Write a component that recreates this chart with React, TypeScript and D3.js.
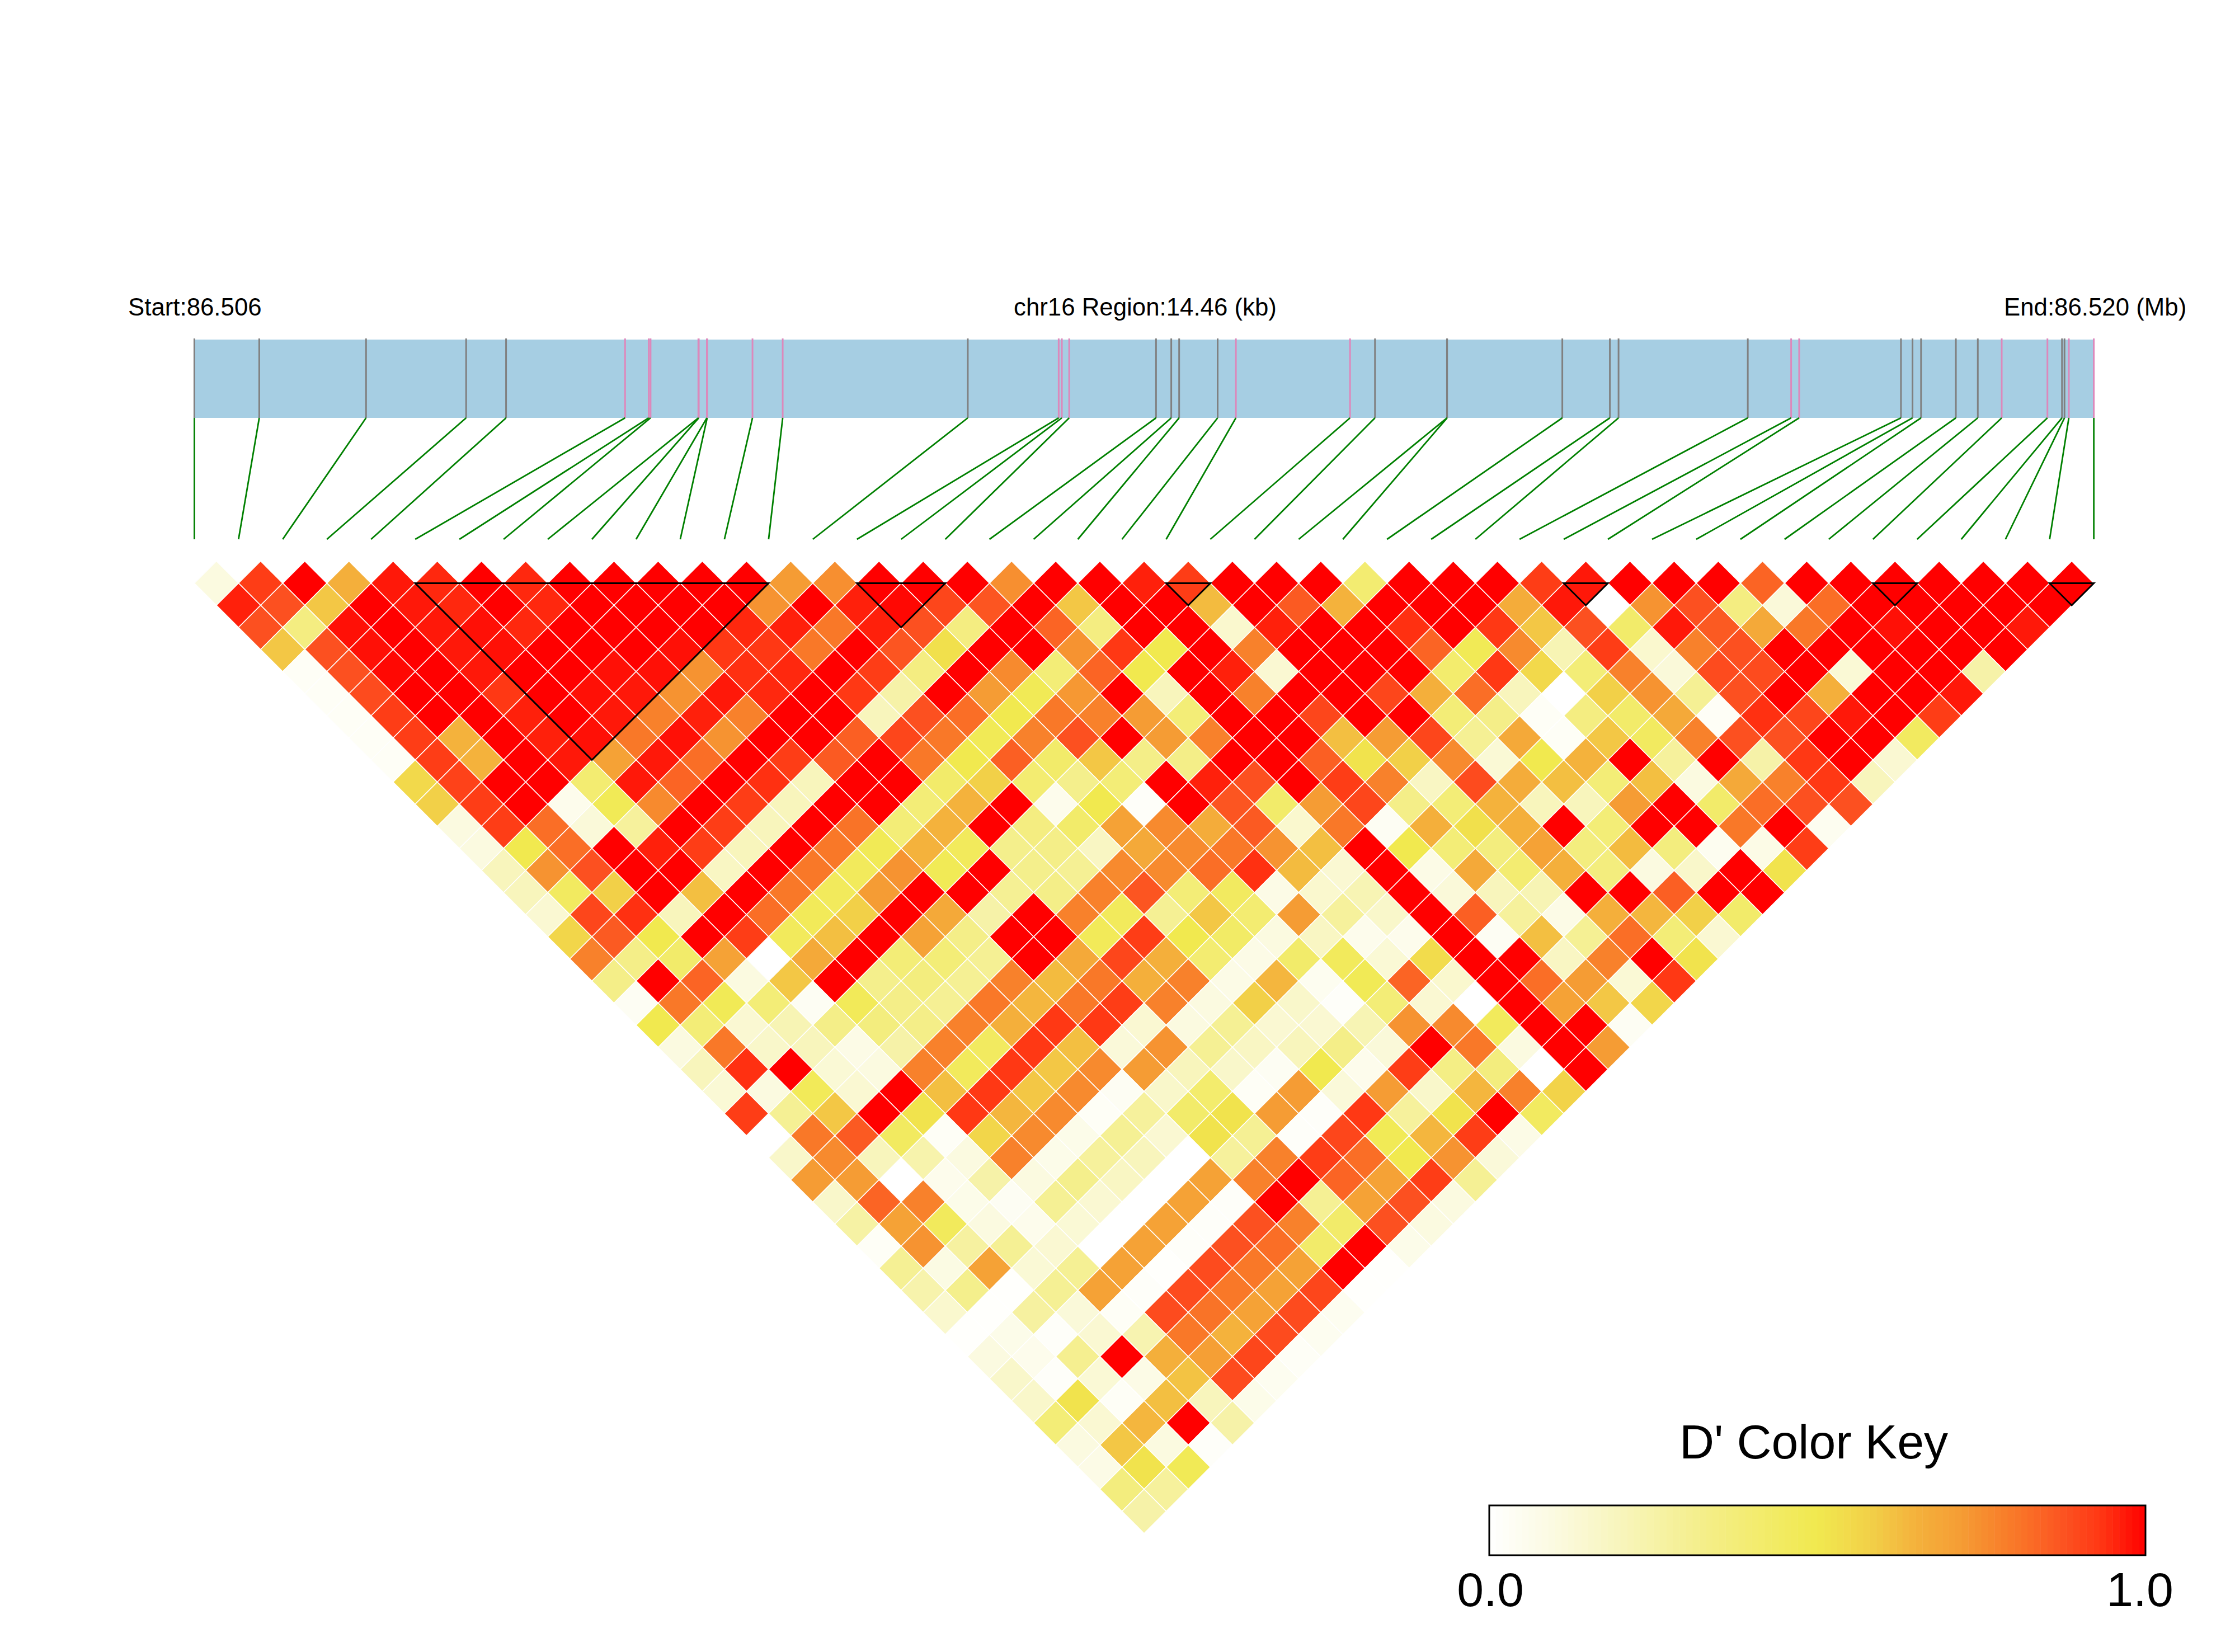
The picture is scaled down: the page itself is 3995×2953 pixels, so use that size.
import React from "react";
import * as d3 from "d3";

// SNP positions along the region, in kb from the region start
const snpKb = [0,0.494,1.307,2.069,2.373,3.279,3.459,3.473,3.837,3.84,3.902,3.904,4.249,4.479,5.888,6.58,6.604,6.66,7.321,7.437,7.497,7.79,7.929,8.798,8.988,9.536,9.537,10.414,10.776,10.842,11.826,12.156,12.217,12.992,13.08,13.145,13.41,13.577,13.759,14.107,14.218,14.237,14.27,14.46];
// SNPs drawn with a pink tick (they fall in LD blocks)
const blockSnps = [5,6,7,8,9,10,11,12,13,15,16,17,22,23,31,32,38,39,42,43];
// LD blocks as [first SNP, last SNP]
const blocks = [[5,13],[15,17],[22,23],[31,32],[38,39],[42,43]];

// D' by SNP distance: row k holds pairs (i, i+k+1)
const dPrimeRows = [
[.1,.92,1,.66,.97,.95,1,.95,1,1,1,1,1,.72,.75,1,1,1,.75,1,1,.96,.92,1,1,1,.4,1,1,1,.92,.97,1,1,1,.84,1,1,1,1,1,1,1],
[.96,.88,.6,1,.97,.95,1,.95,1,1,1,1,.74,1,.96,.99,.9,.87,1,.6,1,1,.63,1,.86,.65,1,1,1,.67,.97,0,.74,.88,.35,.12,.82,1,1,1,1,1],
[.88,.35,.98,1,.97,.98,.95,1,1,1,1,.95,.96,.8,.96,.88,.35,1,.84,.35,1,1,.15,.96,1,1,.94,1,.93,.6,.88,.42,.97,.86,.68,.8,1,.98,1,1,.97],
[.6,.88,.98,1,.97,.98,1,1,1,.98,.93,.93,.8,1,.87,.53,1,1,.74,.93,.5,1,.78,1,1,1,.84,.48,.76,.22,.92,.15,.78,.88,1,1,1,1,1,1],
[.03,.88,.99,1,.97,1,1,.98,.98,.74,.94,.95,1,.92,.35,1,.76,.38,.84,.5,1,.96,.14,1,1,1,.41,.93,.55,.38,.78,.12,.89,.89,1,.13,1,1,.25],
[.03,.89,1,1,.93,1,.98,.97,.74,.97,.95,1,.93,.25,1,.72,.48,.73,1,.2,1,.78,1,1,.9,.66,.82,.2,0,.58,.74,.3,.88,1,.66,1,1,.97],
[.03,.92,1,1,.96,1,.97,.78,.96,.78,1,1,.2,.88,.82,.5,.8,.78,.72,.38,1,1,.9,1,1,.38,.33,.03,.35,.42,.68,.03,.94,.9,.97,1,.92],
[.03,.92,.65,1,.96,.98,.8,.98,.74,1,1,.85,.9,.8,.48,.78,.88,1,.72,.78,1,1,.62,.72,.9,.3,.68,.03,.6,.45,.78,.88,.88,1,1,.45],
[.03,.92,.65,1,.97,.7,.97,.82,1,.92,.86,1,.8,.5,.85,.42,.6,.33,.33,1,1,.85,.52,.58,.76,.13,.5,.65,1,.28,1,.25,.93,1,.14],
[.55,.91,1,1,.4,.97,.84,1,.94,.2,1,1,.42,.58,.4,.32,.38,1,.96,.88,1,.92,.78,.18,.89,.67,.62,.38,.62,.1,.68,.78,.93,.2],
[.58,.92,1,.06,.48,.76,1,.92,.2,1,1,.38,.65,1,.06,.5,.02,1,.87,.42,.72,.9,.33,.38,.65,.2,.2,.72,1,.42,.82,.88,.88],
[.1,.92,.82,.12,.28,1,.92,.2,1,.81,.38,.65,1,.35,.42,.7,.76,.67,.86,.15,.8,.04,.66,.53,.66,1,.38,1,1,.8,1,.05],
[.1,.5,.82,1,.96,.92,.2,1,.8,.48,.65,.46,.32,.33,.18,.68,.76,.8,.74,.62,1,.5,.38,.36,.7,.36,.63,.36,.05,.08,.92],
[.2,.74,.88,1,1,.18,1,.8,.46,.74,.48,1,.32,.3,.76,.76,.82,.94,.63,.14,1,.08,.68,.4,.66,.36,.1,.16,1,.52],
[.2,.45,.58,1,.62,1,.8,.46,.72,1,1,.3,.33,.78,.87,.38,.45,.08,.15,.22,1,.12,.2,.22,1,1,.85,1,1],
[.14,.9,.94,.2,1,.82,.47,.58,1,.68,.25,1,.78,.46,.3,.6,.4,.72,.28,.16,1,.85,.28,.08,.66,.64,.58,.42],
[.56,.86,.5,1,.92,.46,.62,1,.7,.33,1,1,.47,.92,.5,.43,.1,.18,.06,.06,1,.04,.62,.3,.82,.38,.14],
[.78,.33,.42,.7,0,.68,1,.38,.38,.3,1,.68,.9,.66,.4,.08,.42,.46,.13,.54,1,1,.18,.78,1,.52],
[.33,1,.84,.1,.6,1,.32,.36,.3,.78,.63,.8,.66,.78,.08,.64,.05,.48,.84,.15,1,.82,.72,.13,.93],
[.04,.8,.48,.38,.04,.47,.33,.3,.8,.64,.8,.92,.78,.1,.58,.16,.02,.38,.14,0,1,.7,.6,.56],
[.5,.38,.14,.22,.33,.36,.33,.78,.66,.93,.93,.14,.1,.3,.14,.14,.22,.74,.76,.46,1,1,.04],
[.1,.8,.16,.2,.08,.25,.78,.45,.93,.62,.12,.74,.3,.18,.2,.33,.12,1,.8,.1,1,.72],
[.2,.94,1,.13,.1,.78,.46,.93,.6,.76,.72,.2,.16,.04,.5,.06,.92,.34,.36,0,1],
[.13,.1,.47,.14,1,.62,.93,.6,.76,.04,.16,.41,.03,.72,.12,.72,.16,.64,.78,.57],
[.92,.3,.6,1,.52,.93,.64,.76,.03,.28,.42,.52,.72,.02,.93,.28,.52,1,.45],
[0,.8,.86,.45,.03,.56,.76,.07,.3,.14,.52,.3,.02,.9,.48,.64,.92,.08],
[.16,.76,.2,.24,.1,.78,.07,.28,.2,0,.28,.78,.92,.82,.5,.74,.12],
[.72,.72,0,.06,.25,.1,.32,.18,0,.7,.78,1,.84,.7,.92,.3],
[.16,.84,.78,.07,.04,.3,.14,0,.7,.02,1,.3,.7,.88,.1],
[.26,.7,.46,.1,.06,.13,0,.7,.02,.88,.78,.42,.88,.1],
[.03,.74,.27,.3,.14,0,.7,.02,.88,.82,.42,1,.07],
[.3,.09,.7,.13,.3,.7,.01,.89,.8,.7,1,.01],
[.24,.32,.01,.3,.7,.02,.89,.8,.7,.9,.01],
[.15,.01,.27,.12,.03,.89,.81,.7,.89,.05],
[.01,.07,.02,.14,.23,.8,.65,.89,.05],
[.1,.06,.31,1,.66,.71,.9,.03],
[.16,.02,.13,.08,.61,.89,.05],
[.16,.52,.03,.62,.2,.07],
[.38,.14,.64,1,.25],
[.1,.6,.1,.02],
[.08,.52,.48],
[.36,.28],
[.25],
];

const colorStops = [0,.1,.2,.33,.5,.58,.65,.72,.8,.88,.93,1];
const colorValues = ["#ffffff","#fbfae0","#f8f5bc","#f4ee88","#f1e94f","#f2d048","#f4b23c","#f59c34","#f97828","#fc5020","#ff3814","#ff0000"];

const W = 3995, H = 2953;
const color = d3.scaleLinear<string>().domain(colorStops).range(colorValues);
const snpX = d3.scaleLinear().domain([0, snpKb.length - 1]).range([347.4, 3742.6]);
const rowY = d3.scaleLinear().domain([0, dPrimeRows.length - 1]).range([1042.5, 2701.5]);
const bandX = d3.scaleLinear().domain([snpKb[0], snpKb[snpKb.length - 1]]).range([347.4, 3742.6]);
const halfW = (snpX(1) - snpX(0)) / 2;
const halfH = rowY(1) - rowY(0);
const keyX = d3.scaleLinear().domain([0, 1]).range([2662, 3835]);
const keySteps = d3.range(100);

const FONT = "'Liberation Sans', Arial, sans-serif";

export default function App() {
  const bandTop = 607, bandBot = 747, lineBot = 964, keyTop = 2691, keyBot = 2780;
  return (
    <svg width={W} height={H} viewBox={`0 0 ${W} ${H}`} style={{ position: "absolute", left: 0, top: 0, background: "#fff" }} fontFamily={FONT}>
      <text x={229} y={564} fontSize={43.8}>Start:86.506</text>
      <text x={1812} y={564} fontSize={43.8}>chr16 Region:14.46 (kb)</text>
      <text x={3582} y={564} fontSize={43.8}>End:86.520 (Mb)</text>

      <rect x={bandX(0)} y={bandTop} width={bandX(14.46) - bandX(0)} height={bandBot - bandTop} fill="#a6cee3" />
      {snpKb.map((kb, i) => (
        <g key={i}>
          <line x1={bandX(kb)} x2={bandX(kb)} y1={bandTop - 2} y2={bandBot} stroke={blockSnps.includes(i) ? "#dd88bb" : "#808080"} strokeWidth={3} />
          <line x1={bandX(kb)} y1={bandBot} x2={snpX(i)} y2={lineBot} stroke="#008000" strokeWidth={2.8} />
        </g>
      ))}

      {dPrimeRows.map((row, k) =>
        row.map((v, i) => {
          const cx = snpX(i + (k + 1) / 2);
          const cy = rowY(k);
          return (
            <path key={`${k}-${i}`} d={`M${cx - halfW},${cy}L${cx},${cy - halfH}L${cx + halfW},${cy}L${cx},${cy + halfH}Z`} fill={color(v)} stroke="#fff" strokeWidth={1.6} />
          );
        })
      )}

      {blocks.map(([a, b], n) => {
        const xa = snpX(a), xb = snpX(b);
        const tipY = rowY(0) + (b - a) * halfH;
        return <path key={n} d={`M${xa},${rowY(0)}L${xb},${rowY(0)}L${(xa + xb) / 2},${tipY}Z`} fill="none" stroke="#000" strokeWidth={3} />;
      })}

      <text x={3242} y={2607} fontSize={86} textAnchor="middle">D' Color Key</text>
      {keySteps.map((s) => (
        <rect key={s} x={keyX(s / 100)} y={keyTop} width={keyX(1 / 100) - keyX(0) + 0.5} height={keyBot - keyTop} fill={color((s + 0.5) / 100)} />
      ))}
      <rect x={keyX(0)} y={keyTop} width={keyX(1) - keyX(0)} height={keyBot - keyTop} fill="none" stroke="#000" strokeWidth={3} />
      <text x={2664} y={2871} fontSize={86} textAnchor="middle">0.0</text>
      <text x={3825} y={2871} fontSize={86} textAnchor="middle">1.0</text>
    </svg>
  );
}
